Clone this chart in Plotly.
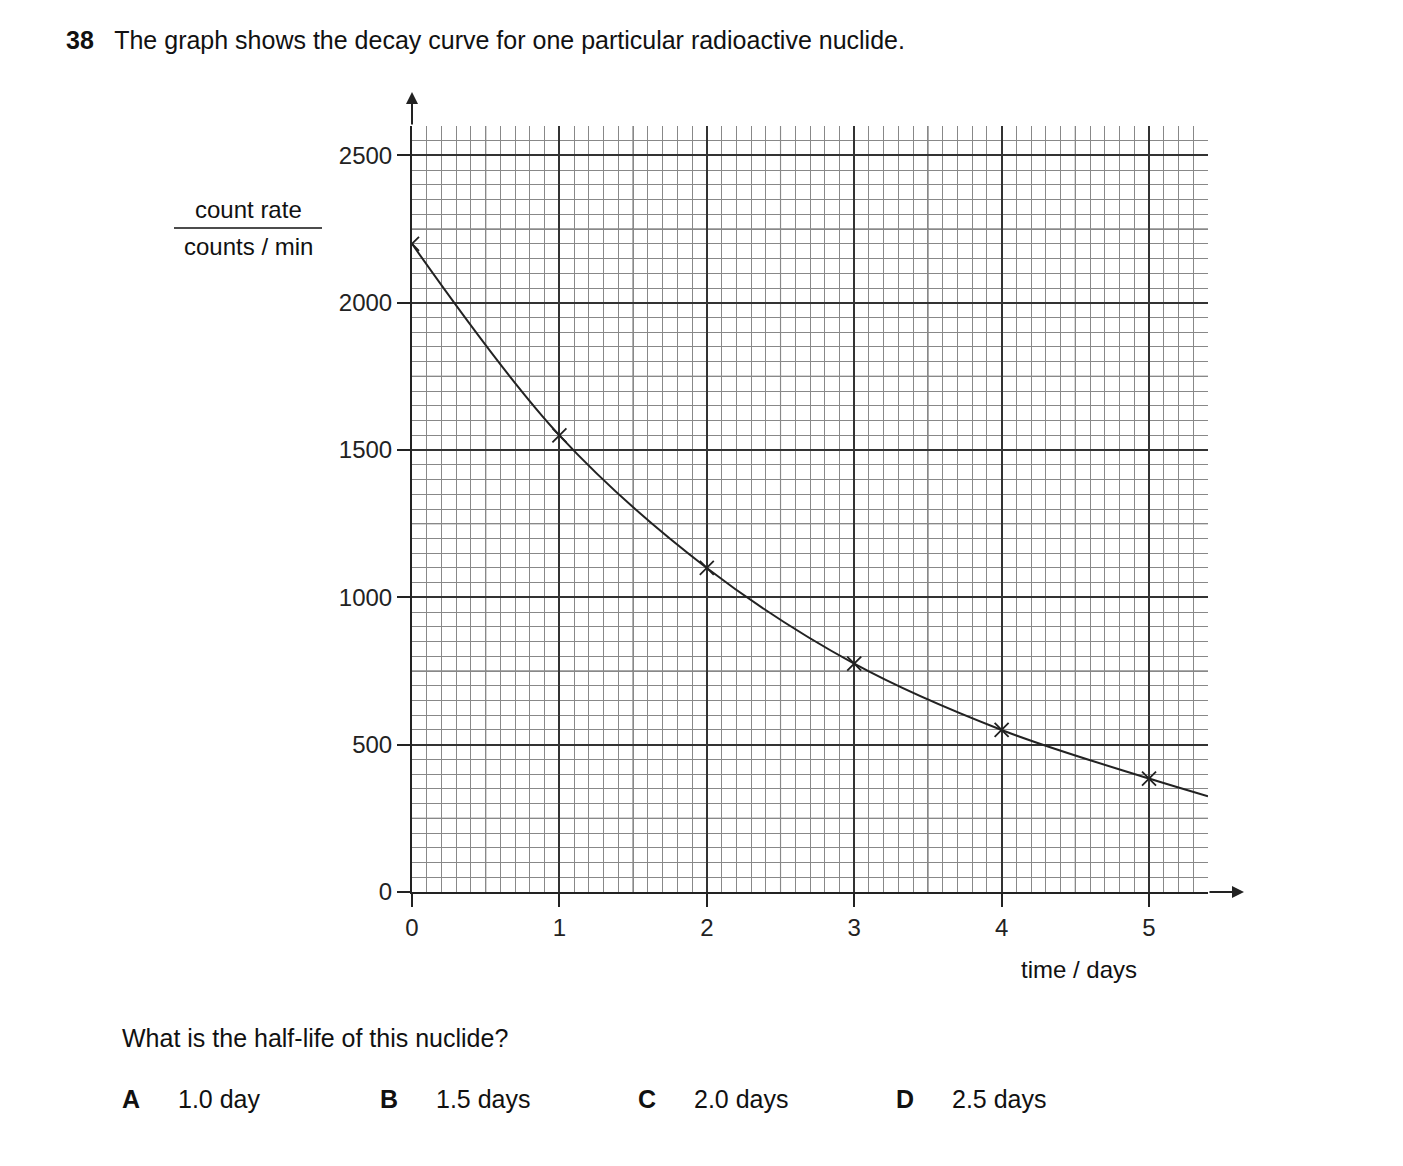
import plotly.graph_objects as go

# data
days = [0, 1, 2, 3, 4, 5]
counts = [2200, 1550, 1100, 775, 550, 385]
curve_days = [0, 1, 2, 3, 4, 5, 5.4]
curve_counts = [2200, 1550, 1100, 775, 550, 385, 325]
x_ticks = [0, 1, 2, 3, 4, 5]
y_ticks = [0, 500, 1000, 1500, 2000, 2500]

W, H = 1403, 1166
L, R, T, B = 404, 1200, 118, 884
XMAX, YMAX = 5.4, 2600


def px(x):
    return (x - L) / (R - L)


def py(y):
    return (B - y) / (B - T)


fig = go.Figure()
fig.add_trace(go.Scatter(x=curve_days, y=curve_counts, mode="lines",
                         line=dict(color="#222", width=2, shape="spline"),
                         hoverinfo="skip"))
fig.add_trace(go.Scatter(x=days, y=counts, mode="markers",
                         marker=dict(symbol="x-thin", size=14,
                                     line=dict(color="#222", width=1.8))))

shapes = []
# medium grid lines at half steps
for i in range(11):
    xv = i * 0.5
    if i % 2 == 1:
        shapes.append(dict(type="line", x0=xv, x1=xv, y0=0, y1=YMAX,
                           line=dict(color="#555", width=1.1), layer="below"))
for i in range(11):
    yv = i * 250
    if i % 2 == 1:
        shapes.append(dict(type="line", x0=0, x1=XMAX, y0=yv, y1=yv,
                           line=dict(color="#555", width=1.1), layer="below"))

ann = []
# axis arrows
ann.append(dict(x=px(404), y=py(84), xref="paper", yref="paper",
                ax=0, ay=34, axref="pixel", ayref="pixel",
                showarrow=True, arrowhead=2, arrowsize=1.2, arrowwidth=2,
                arrowcolor="#222", text=""))
ann.append(dict(x=px(1236), y=py(884), xref="paper", yref="paper",
                ax=-36, ay=0, axref="pixel", ayref="pixel",
                showarrow=True, arrowhead=2, arrowsize=1.2, arrowwidth=2,
                arrowcolor="#222", text=""))


def txt(x, y, s, size=24, anchor="left"):
    ann.append(dict(x=px(x), y=py(y), xref="paper", yref="paper", text=s,
                    showarrow=False, xanchor=anchor, yanchor="middle",
                    font=dict(size=size, color="#111",
                              family="Liberation Sans, Arial")))


txt(56, 32, "<b>38</b>   The graph shows the decay curve for one particular radioactive nuclide.", 25)
txt(240, 201, "count rate", anchor="center")
txt(240, 238, "counts / min", anchor="center")
shapes.append(dict(type="line", xref="paper", yref="paper",
                   x0=px(166), x1=px(314), y0=py(220), y1=py(220),
                   line=dict(color="#111", width=1.5)))
txt(1071, 961, "time / days", anchor="center")
txt(112, 1030, "What is the half-life of this nuclide?", 25)
for lx, letter, opt in [(112, "A", "1.0 day"), (370, "B", "1.5 days"),
                        (628, "C", "2.0 days"), (886, "D", "2.5 days")]:
    txt(lx, 1091, "<b>" + letter + "</b>", 25)
    txt(lx + 56, 1091, opt, 25)

axis_common = dict(showline=True, linecolor="#222", linewidth=2,
                   ticks="outside", ticklen=13, tickwidth=2, tickcolor="#222",
                   zeroline=False, gridcolor="#333", gridwidth=1.8,
                   tickfont=dict(size=24, color="#222",
                                 family="Liberation Sans, Arial"),
                   fixedrange=True)
fig.update_layout(
    width=W, height=H,
    margin=dict(l=L, r=W - R, t=T, b=H - B),
    paper_bgcolor="white", plot_bgcolor="white",
    showlegend=False,
    xaxis=dict(range=[0, XMAX], tickvals=x_ticks, **axis_common,
               minor=dict(dtick=0.1, tick0=0, showgrid=True,
                          gridcolor="#888", gridwidth=0.7, ticks="")),
    yaxis=dict(range=[0, YMAX], tickvals=y_ticks, **axis_common,
               minor=dict(dtick=50, tick0=0, showgrid=True,
                          gridcolor="#888", gridwidth=0.7, ticks="")),
    shapes=shapes, annotations=ann,
)
fig.write_html("out.html")
